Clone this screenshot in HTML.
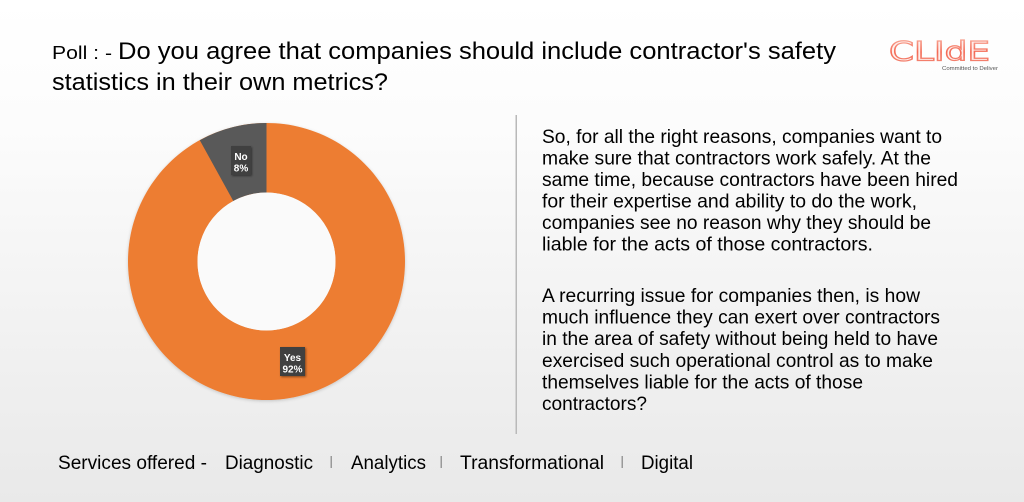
<!DOCTYPE html>
<html>
<head>
<meta charset="utf-8">
<style>
  html,body{margin:0;padding:0;}
  body{width:1024px;height:502px;overflow:hidden;background:linear-gradient(to bottom,#ffffff 0%,#fcfcfc 25%,#f3f3f3 60%,#e9e9e9 100%);font-family:"Liberation Sans",Arial,sans-serif;}
  svg{display:block;}
</style>
</head>
<body>
<svg width="1024" height="502" viewBox="0 0 1024 502" xmlns="http://www.w3.org/2000/svg" font-family="Liberation Sans, Arial, sans-serif">
  <defs>
    <filter id="sh" x="-10%" y="-10%" width="120%" height="120%">
      <feDropShadow dx="0" dy="1" stdDeviation="1.5" flood-color="#000" flood-opacity="0.18"/>
    </filter>
    <filter id="sh2" x="-30%" y="-30%" width="160%" height="160%">
      <feDropShadow dx="1" dy="1" stdDeviation="1" flood-color="#000" flood-opacity="0.45"/>
    </filter>
    <linearGradient id="lg" x1="0" y1="0" x2="0" y2="1">
      <stop offset="0" stop-color="#f8b0a0"/>
      <stop offset="0.5" stop-color="#f46a55"/>
      <stop offset="1" stop-color="#f3907f"/>
    </linearGradient>
  </defs>

  <!-- Title -->
  <text x="52" y="59" font-size="18.5" fill="#000" textLength="60" lengthAdjust="spacingAndGlyphs">Poll : -</text>
  <text x="118" y="59" font-size="24" fill="#000" textLength="718" lengthAdjust="spacingAndGlyphs">Do you agree that companies should include contractor's safety</text>
  <text x="52" y="90" font-size="24" fill="#000" textLength="336" lengthAdjust="spacingAndGlyphs">statistics in their own metrics?</text>

  <!-- Logo -->
  <text x="889" y="60.5" font-size="27" fill="#fde3dd" fill-opacity="0.6" stroke="url(#lg)" stroke-width="1.2" textLength="101" lengthAdjust="spacingAndGlyphs" font-family="DejaVu Sans, sans-serif">CLIdE</text>
  <text x="942" y="70" font-size="5.5" fill="#555" textLength="56" lengthAdjust="spacingAndGlyphs">Committed to Deliver</text>

  <!-- Donut -->
  <g filter="url(#sh)">
    <path fill-rule="evenodd" fill="#ed7d31" d="M266.5,123 A138.5,138.5 0 1 1 266.49,123 Z M266.5,192.5 A69,69 0 1 0 266.51,192.5 Z"/>
  </g>
  <path fill="#595959" d="M266.5,123 L266.5,192.5 A69,69 0 0 0 233.3,201 L199.8,140.2 A138.5,138.5 0 0 1 266.5,123 Z"/>
  <circle cx="266.5" cy="261.5" r="69" fill="#fafafa"/>

  <!-- Labels -->
  <rect x="231" y="146" width="20" height="29" fill="#404040" filter="url(#sh2)"/>
  <text x="241" y="160" font-size="10" font-weight="bold" fill="#fff" text-anchor="middle">No</text>
  <text x="241" y="171.5" font-size="10" font-weight="bold" fill="#fff" text-anchor="middle">8%</text>
  <rect x="280" y="347" width="25" height="29" fill="#404040" filter="url(#sh2)"/>
  <text x="292.5" y="361" font-size="10" font-weight="bold" fill="#fff" text-anchor="middle">Yes</text>
  <text x="292.5" y="372.5" font-size="10" font-weight="bold" fill="#fff" text-anchor="middle">92%</text>

  <!-- Divider -->
  <rect x="515.5" y="115" width="1.5" height="319" fill="#b9b9b9"/>

  <!-- Right paragraphs -->
  <g font-size="19.5" fill="#000">
    <text x="542" y="143" textLength="400" lengthAdjust="spacingAndGlyphs">So, for all the right reasons, companies want to</text>
    <text x="542" y="164.5" textLength="389" lengthAdjust="spacingAndGlyphs">make sure that contractors work safely. At the</text>
    <text x="542" y="186" textLength="416" lengthAdjust="spacingAndGlyphs">same time, because contractors have been hired</text>
    <text x="542" y="207.5" textLength="375" lengthAdjust="spacingAndGlyphs">for their expertise and ability to do the work,</text>
    <text x="542" y="229" textLength="389" lengthAdjust="spacingAndGlyphs">companies see no reason why they should be</text>
    <text x="542" y="250.5" textLength="331" lengthAdjust="spacingAndGlyphs">liable for the acts of those contractors.</text>

    <text x="542" y="302" textLength="378" lengthAdjust="spacingAndGlyphs">A recurring issue for companies then, is how</text>
    <text x="542" y="323.6" textLength="398" lengthAdjust="spacingAndGlyphs">much influence they can exert over contractors</text>
    <text x="542" y="345.2" textLength="396" lengthAdjust="spacingAndGlyphs">in the area of safety without being held to have</text>
    <text x="542" y="366.8" textLength="391" lengthAdjust="spacingAndGlyphs">exercised such operational control as to make</text>
    <text x="542" y="388.4" textLength="321" lengthAdjust="spacingAndGlyphs">themselves liable for the acts of those</text>
    <text x="542" y="410" textLength="105" lengthAdjust="spacingAndGlyphs">contractors?</text>
  </g>

  <!-- Footer -->
  <g font-size="19" fill="#000">
    <text x="58" y="469" textLength="149" lengthAdjust="spacingAndGlyphs">Services offered -</text>
    <text x="225" y="469" textLength="88" lengthAdjust="spacingAndGlyphs">Diagnostic</text>
    <text x="351" y="469" textLength="75" lengthAdjust="spacingAndGlyphs">Analytics</text>
    <text x="460" y="469" textLength="144" lengthAdjust="spacingAndGlyphs">Transformational</text>
    <text x="641" y="469" textLength="52" lengthAdjust="spacingAndGlyphs">Digital</text>
  </g>
  <rect x="330.5" y="456" width="1.5" height="12" fill="#9a9a9a"/>
  <rect x="440.5" y="456" width="1.5" height="12" fill="#9a9a9a"/>
  <rect x="621.5" y="456" width="1.5" height="12" fill="#9a9a9a"/>
</svg>
</body>
</html>
